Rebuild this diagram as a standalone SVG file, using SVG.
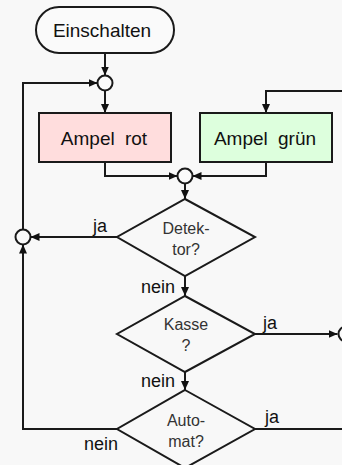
<svg xmlns="http://www.w3.org/2000/svg" width="342" height="465" viewBox="0 0 342 465">
  <defs>
    <marker id="arrow" markerUnits="userSpaceOnUse" markerWidth="10" markerHeight="8" refX="9" refY="4" orient="auto">
      <path d="M0,0 L9,4 L0,8 Z" fill="#111"/>
    </marker>
    <style>
      .shape { stroke: #1a1a1a; stroke-width: 2; }
      .wire { fill: none; stroke: #1a1a1a; stroke-width: 2; }
      .arr { marker-end: url(#arrow); }
      .junction { fill: #fafafa; stroke: #1a1a1a; stroke-width: 2; }
      .big { font-family: "Liberation Sans", Arial, sans-serif; font-size: 19px; fill: #111; text-anchor: middle; }
      .wide { word-spacing: 5px; }
      .dec { font-family: "Liberation Sans", Arial, sans-serif; font-size: 16px; fill: #333; text-anchor: middle; }
      .lbl { font-family: "Liberation Sans", Arial, sans-serif; font-size: 18px; fill: #111; }
    </style>
  </defs>

  <rect x="0" y="0" width="342" height="465" fill="#f8f8f8"/>

  <!-- connectors -->
  <g id="connectors">
    <path class="wire arr" d="M105,53 V75.5"/>
    <path class="wire arr" d="M105,90.5 V113"/>
    <path class="wire arr" d="M23,229.5 V83 H97.5"/>
    <path class="wire arr" d="M342,91 H266 V113"/>
    <path class="wire arr" d="M105,162 V176 H177.5"/>
    <path class="wire arr" d="M266,162 V176 H192.5"/>
    <path class="wire arr" d="M185,183.5 V199"/>
    <path class="wire arr" d="M117,237 H30.5"/>
    <path class="wire arr" d="M185,276 V296"/>
    <path class="wire arr" d="M255,334 H337.5"/>
    <path class="wire arr" d="M185,372 V390"/>
    <path class="wire arr" d="M117,429 H23 V244.5"/>
    <path class="wire" d="M255,429 H342"/>
    <text class="lbl" x="93" y="232">ja</text>
    <text class="lbl" x="141" y="293">nein</text>
    <text class="lbl" x="263" y="329">ja</text>
    <text class="lbl" x="141" y="387">nein</text>
    <text class="lbl" x="265" y="423">ja</text>
    <text class="lbl" x="84" y="450">nein</text>
  </g>

  <!-- junction points -->
  <g id="join-top"><circle class="junction" cx="105" cy="83" r="7.5"/></g>
  <g id="join-mid"><circle class="junction" cx="185" cy="176" r="7.5"/></g>
  <g id="join-left"><circle class="junction" cx="23" cy="237" r="7.5"/></g>
  <g id="join-right"><circle class="junction" cx="346" cy="334" r="7.5"/></g>

  <g id="einschalten">
    <rect class="shape" x="36" y="7" width="138" height="46" rx="23" ry="23" fill="#fafafa"/>
    <text class="big" x="102" y="37">Einschalten</text>
  </g>

  <g id="ampel-rot">
    <rect class="shape" x="39" y="113" width="132" height="49" fill="#ffdddd"/>
    <text class="big wide" x="104" y="145">Ampel rot</text>
  </g>

  <g id="ampel-gruen">
    <rect class="shape" x="200" y="113" width="132" height="49" fill="#ddffdd"/>
    <text class="big wide" x="265" y="145">Ampel grün</text>
  </g>

  <g id="detektor">
    <polygon class="shape" points="185,199 255,237 185,276 117,237" fill="#f8f8f8"/>
    <text class="dec" x="186" y="234">Detek-</text>
    <text class="dec" x="186" y="255">tor?</text>
  </g>

  <g id="kasse">
    <polygon class="shape" points="185,296 255,334 185,372 117,334" fill="#f8f8f8"/>
    <text class="dec" x="186" y="330">Kasse</text>
    <text class="dec" x="186" y="351">?</text>
  </g>

  <g id="automat">
    <polygon class="shape" points="185,390 255,429 185,468 117,429" fill="#f8f8f8"/>
    <text class="dec" x="186" y="426">Auto-</text>
    <text class="dec" x="186" y="447">mat?</text>
  </g>
</svg>
